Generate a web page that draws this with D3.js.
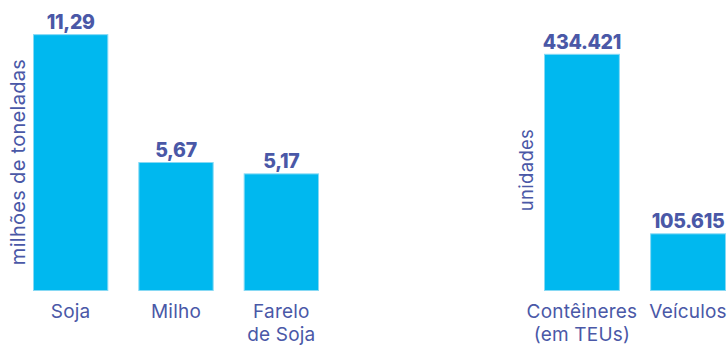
<!DOCTYPE html>
<html>
<head>
<meta charset="utf-8">
<script src="https://cdn.jsdelivr.net/npm/d3@7"></script>
<style>
  html, body { margin: 0; padding: 0; background: #ffffff; }
  svg { display: block; }
  text { font-family: "Inter", "Noto Sans", sans-serif; fill: #4a58a7; }
</style>
</head>
<body>
<svg id="chart" width="728" height="347"></svg>
<script>
// Grain volumes (millions of tonnes)
const graosCategorias = [["Soja"], ["Milho"], ["Farelo", "de Soja"]];
const graosValores = [11.29, 5.67, 5.17];
const graosRotulos = ["11,29", "5,67", "5,17"];
const graosTitulo = "milhões de toneladas";

// Containers and vehicles (units)
const cargaCategorias = [["Contêineres", "(em TEUs)"], ["Veículos"]];
const cargaValores = [434421, 105615];
const cargaRotulos = ["434.421", "105.615"];
const cargaTitulo = "unidades";

const svg = d3.select("#chart");
const baseY = 291, topY = 18;
const barFill = "#00b8ef", barEdge = "#86d9f4";

function painel(cfg) {
  const x = d3.scaleBand()
    .domain(cfg.cats.map((c, i) => i))
    .range(cfg.xRange)
    .paddingInner(0.285)
    .paddingOuter(0);
  const y = d3.scaleLinear().domain([0, cfg.max]).range([baseY, topY]);

  const g = svg.append("g");

  g.selectAll("rect.bar")
    .data(cfg.values)
    .join("rect")
    .attr("class", "bar")
    .attr("x", (d, i) => x(i) + 0.5)
    .attr("y", d => y(d) + 0.5)
    .attr("width", x.bandwidth() - 1)
    .attr("height", d => baseY - y(d) - 1)
    .attr("fill", barFill)
    .attr("stroke", barEdge)
    .attr("stroke-width", 1);

  g.selectAll("text.valor")
    .data(cfg.values)
    .join("text")
    .attr("class", "valor")
    .attr("x", (d, i) => x(i) + x.bandwidth() / 2)
    .attr("y", d => y(d) - 5)
    .attr("text-anchor", "middle")
    .attr("font-size", 19.5)
    .attr("font-weight", 800)
    .attr("letter-spacing", -0.3)
    .text((d, i) => cfg.labels[i]);

  const cat = g.selectAll("text.cat")
    .data(cfg.cats)
    .join("text")
    .attr("class", "cat")
    .attr("text-anchor", "middle")
    .attr("font-size", 19)
    .attr("letter-spacing", 0.2)
    .attr("x", (d, i) => x(i) + x.bandwidth() / 2)
    .attr("y", 318);
  cat.selectAll("tspan")
    .data(d => d)
    .join("tspan")
    .attr("x", function () { return this.parentNode.getAttribute("x"); })
    .attr("dy", (d, j) => j === 0 ? 0 : 23)
    .text(d => d);

  g.append("text")
    .attr("transform", `translate(${cfg.titleX},${cfg.titleY}) rotate(-90)`)
    .attr("text-anchor", "middle")
    .attr("font-size", cfg.titleSize)
    .attr("letter-spacing", 0.3)
    .text(cfg.title);
}

painel({
  cats: graosCategorias, values: graosValores, labels: graosRotulos,
  max: 12, xRange: [33, 319], title: graosTitulo, titleX: 25, titleY: 162, titleSize: 20
});
painel({
  cats: cargaCategorias, values: cargaValores, labels: cargaRotulos,
  max: 500000, xRange: [544, 726], title: cargaTitulo, titleX: 533, titleY: 170, titleSize: 18.5
});
</script>
</body>
</html>
